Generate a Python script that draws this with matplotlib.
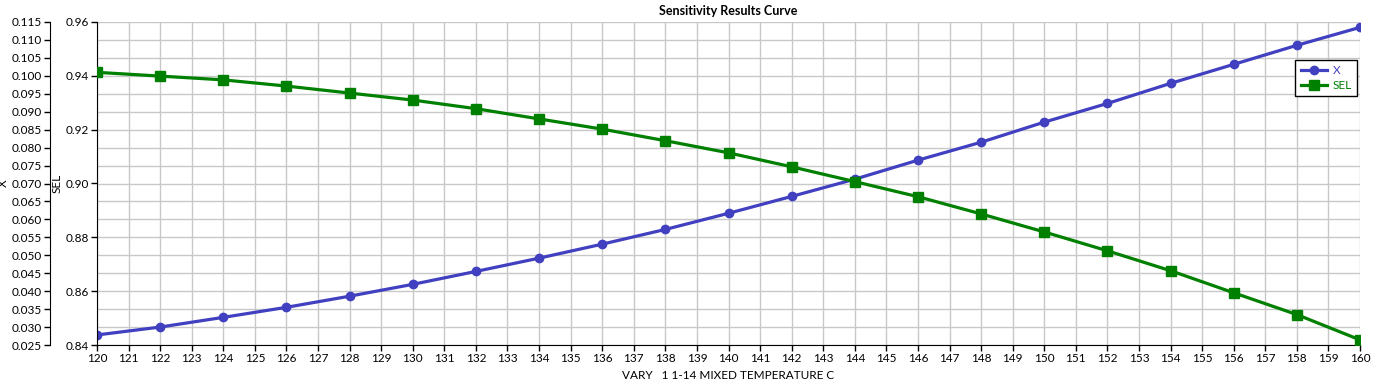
import matplotlib
matplotlib.use("Agg")
import matplotlib.pyplot as plt
import numpy as np

plt.rcParams['font.family'] = ['Lato', 'DejaVu Sans']

temperature = [120, 122, 124, 126, 128, 130, 132, 134, 136, 138, 140,
               142, 144, 146, 148, 150, 152, 154, 156, 158, 160]
x_values = [0.0278, 0.0300, 0.0327, 0.0355, 0.0386, 0.0419, 0.0455, 0.0492,
            0.0531, 0.0572, 0.0617, 0.0664, 0.0712, 0.0765, 0.0815, 0.0871,
            0.0923, 0.0979, 0.1032, 0.1085, 0.1135]
sel_values = [0.9413, 0.9399, 0.9385, 0.9362, 0.9336, 0.9310, 0.9278, 0.9240,
              0.9202, 0.9159, 0.9114, 0.9062, 0.9007, 0.8951, 0.8887, 0.8820,
              0.8750, 0.8676, 0.8594, 0.8513, 0.8419]
x_ticks = [round(0.025 + 0.005 * i, 3) for i in range(19)]
sel_ticks = [0.84, 0.86, 0.88, 0.90, 0.92, 0.94, 0.96]
temp_ticks = list(range(120, 161))

title = "Sensitivity Results Curve"
xlabel = "VARY   1 1-14 MIXED TEMPERATURE C"

blue = "#4040C0"
green = "#008000"

W, H = 1374, 386
fig = plt.figure(figsize=(W / 100, H / 100), dpi=100)
ax1 = fig.add_axes([97 / W, 1 - 345 / H, (1360 - 97) / W, (345 - 22) / H])

l1, = ax1.plot(temperature, x_values, color=blue, lw=2.3, marker='o',
               markersize=6, label='X', zorder=3)
ax1.set_xlim(120, 160)
ax1.set_ylim(0.025, 0.115)
ax1.set_yticks(x_ticks)
ax1.set_yticklabels([f"{v:.3f}" for v in x_ticks])
ax1.set_xticks(temp_ticks)
ax1.set_xticklabels([str(t) for t in temp_ticks])
ax1.grid(True, color='#c8c8c8', lw=1)
ax1.set_axisbelow(True)
for s in ['top', 'right']:
    ax1.spines[s].set_visible(False)
ax1.spines['left'].set_position(('outward', 47 * 0.72))
ax1.tick_params(axis='both', direction='out', length=4, width=1,
                labelsize=8.5, colors='black', pad=2)
ax1.set_ylabel("X", fontsize=8.5, labelpad=2)
ax1.set_xlabel(xlabel, fontsize=8.5, labelpad=4)
ax1.set_title(title, fontsize=9, fontweight='bold', pad=5)

ax2 = ax1.twinx()
l2, = ax2.plot(temperature, sel_values, color=green, lw=2.3, marker='s',
               markersize=6.5, label='SEL', zorder=3)
ax2.set_ylim(0.84, 0.96)
ax2.set_yticks(sel_ticks)
ax2.set_yticklabels([f"{v:.2f}" for v in sel_ticks])
ax2.yaxis.set_ticks_position('left')
ax2.yaxis.set_label_position('left')
ax2.spines['left'].set_visible(True)
ax2.spines['left'].set_position(('outward', 0))
for s in ['top', 'right', 'bottom']:
    ax2.spines[s].set_visible(False)
ax2.tick_params(axis='y', direction='out', length=4, width=1,
                labelsize=8.5, pad=2)
ax2.set_ylabel("SEL", fontsize=8.5, labelpad=2)

leg = ax2.legend(handles=[l1, l2], loc='upper right',
                 bbox_to_anchor=(0.9976, 0.882), borderaxespad=0,
                 fontsize=8.5, frameon=True, fancybox=False,
                 edgecolor='black', framealpha=1, handlelength=2.2,
                 borderpad=0.45, labelspacing=0.3, handletextpad=0.5)
leg.get_frame().set_linewidth(1)
for txt, c in zip(leg.get_texts(), [blue, green]):
    txt.set_color(c)

fig.savefig("out.png", dpi=100)
